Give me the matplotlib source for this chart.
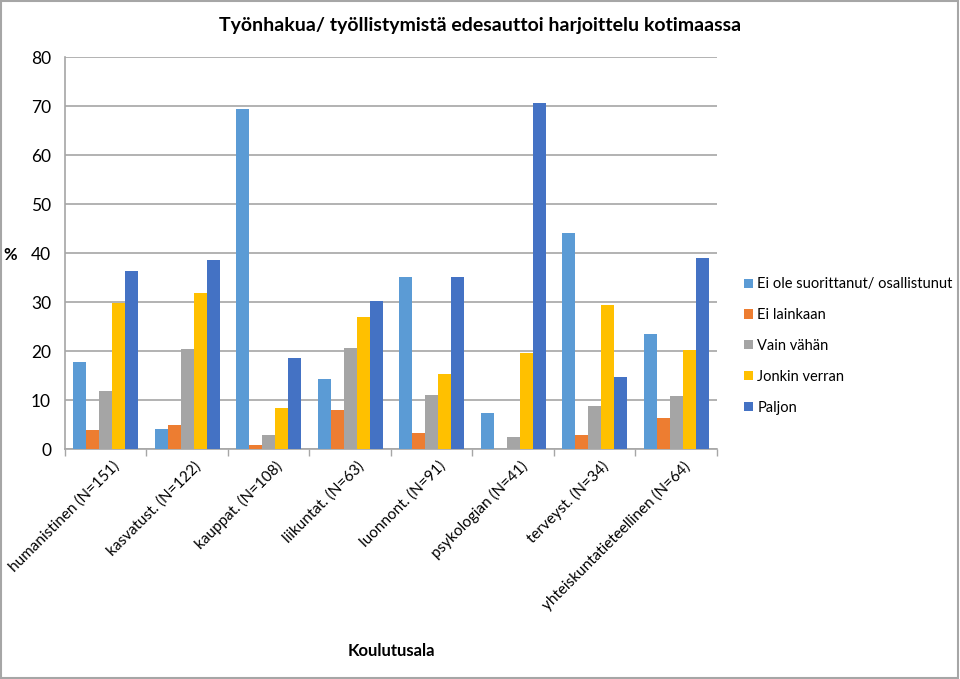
import numpy as np
import matplotlib.pyplot as plt

plt.rcParams['font.family'] = ['Lato', 'DejaVu Sans']

categories = ['humanistinen (N=151)', 'kasvatust. (N=122)', 'kauppat. (N=108)',
              'liikuntat. (N=63)', 'luonnont. (N=91)', 'psykologian (N=41)',
              'terveyst. (N=34)', 'yhteiskuntatieteellinen (N=64)']
series = ['Ei ole suorittanut/ osallistunut', 'Ei lainkaan', 'Vain vähän',
          'Jonkin verran', 'Paljon']
ei_ole = [17.8, 4.1, 69.4, 14.3, 35.1, 7.3, 44.1, 23.4]
ei_lainkaan = [3.9, 4.9, 0.9, 7.9, 3.3, 0.0, 2.9, 6.3]
vain_vahan = [11.8, 20.4, 2.8, 20.6, 11.0, 2.4, 8.8, 10.9]
jonkin_verran = [29.7, 31.8, 8.3, 26.9, 15.4, 19.5, 29.4, 20.2]
paljon = [36.4, 38.6, 18.6, 30.2, 35.1, 70.6, 14.7, 39.0]
values = [ei_ole, ei_lainkaan, vain_vahan, jonkin_verran, paljon]
colors = ['#5B9BD5', '#ED7D31', '#A5A5A5', '#FFC000', '#4472C4']

fig = plt.figure(figsize=(9.6, 6.79), dpi=100)
ax = fig.add_axes([0.0677, 0.3387, 0.679, 0.5773])

x = np.arange(len(categories))
w = 1 / (5 + 1.28)
for i, (vals, c) in enumerate(zip(values, colors)):
    ax.bar(x + (i - 2) * w, vals, w, color=c, label=series[i], zorder=3)

ax.set_xlim(-0.5, len(categories) - 0.5)
ax.set_ylim(0, 80)
ax.set_yticks(range(0, 81, 10))
ax.yaxis.grid(True, color='#A6A6A6', linewidth=1.2, zorder=0)
ax.tick_params(axis='y', length=0, labelsize=12.5, pad=10)
ax.set_xticks(np.arange(-0.5, len(categories)))
ax.set_xticklabels([])
ax.tick_params(axis='x', length=5, color='#A6A6A6', width=1)
for xi, lab in zip(x, categories):
    ax.text(xi + 0.08, -2.0, lab, rotation=45, ha='right', va='top',
            rotation_mode='anchor', fontsize=11)
for s in ['top', 'right']:
    ax.spines[s].set_visible(False)
for s in ['left', 'bottom']:
    ax.spines[s].set_color('#A6A6A6')
    ax.spines[s].set_linewidth(1.2)

fig.text(0.5, 0.963, 'Työnhakua/ työllistymistä edesauttoi harjoittelu kotimaassa',
         ha='center', va='center', fontsize=14, fontweight='bold')
fig.text(0.011, 0.625, '%', ha='center', va='center', fontsize=12, fontweight='bold')
fig.text(0.408, 0.041, 'Koulutusala', ha='center', va='center', fontsize=12,
         fontweight='bold')

fig.legend(loc='upper left', bbox_to_anchor=(0.769, 0.6), frameon=False,
           fontsize=10.5, handlelength=0.6, handleheight=0.6, handletextpad=0.3,
           labelspacing=1.15, borderaxespad=0)

fig.patches.append(plt.Rectangle((0.001, 0.001), 0.997, 0.997, transform=fig.transFigure,
                                 fill=False, edgecolor='#A6A6A6', linewidth=1.5))
fig.savefig('out.png', dpi=100)
